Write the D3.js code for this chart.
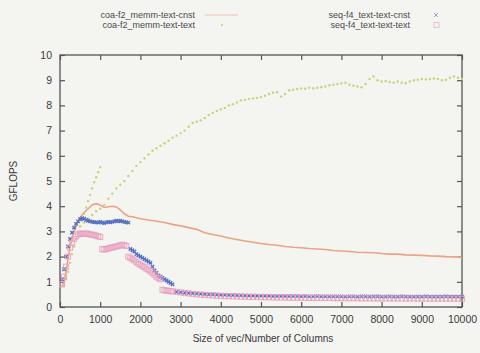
<!DOCTYPE html>
<html>
<head>
<meta charset="utf-8">
<script src="https://cdn.jsdelivr.net/npm/d3@7"></script>
<style>
  html, body { margin: 0; padding: 0; background: #f4f4f1; }
  svg { display: block; }
</style>
</head>
<body>
<div id="chart"></div>
<script>
// legend entries, in plot order
const seriesNames = ['coa-f2_memm-text-cnst', 'coa-f2_memm-text-text', 'seq-f4_text-text-cnst', 'seq-f4_text-text-text'];

const xTicks = [0, 1000, 2000, 3000, 4000, 5000, 6000, 7000, 8000, 9000, 10000];
const yTicks = [0, 1, 2, 3, 4, 5, 6, 7, 8, 9, 10];

// coa-f2_memm-text-cnst (line)
const orangeX = [50, 100, 150, 200, 250, 300, 350, 400, 450, 500, 600, 700, 800, 900, 1000, 1100, 1200, 1300, 1400, 1500, 1600, 1700, 1800,
  2000, 2200, 2400, 2600, 2800, 3000, 3200, 3400, 3600, 3800, 4000, 4200, 4400, 4600, 4800, 5000, 5200, 5400, 5600, 5800,
  6000, 6200, 6400, 6600, 6800, 7000, 7200, 7400, 7600, 7800, 8000, 8200, 8400, 8600, 8800, 9000, 9200, 9400, 9600, 9800, 10000];
const orangeY = [0.8, 1.0, 1.4, 1.9, 2.4, 2.7, 3.0, 3.2, 3.4, 3.55, 3.75, 3.9, 4.05, 4.1, 4.05, 3.95, 3.98, 4.0, 3.97, 3.85, 3.7, 3.6, 3.58,
  3.5, 3.45, 3.4, 3.35, 3.28, 3.22, 3.15, 3.08, 2.95, 2.88, 2.82, 2.74, 2.68, 2.62, 2.57, 2.52, 2.48, 2.45, 2.4, 2.37,
  2.35, 2.32, 2.3, 2.28, 2.24, 2.22, 2.2, 2.17, 2.16, 2.15, 2.12, 2.1, 2.1, 2.07, 2.06, 2.05, 2.03, 2.02, 2.0, 1.99, 1.97];

// coa-f2_memm-text-text (points), steep early branch and main branch
const greenSteepX = d3.range(100, 1001, 50);
const greenSteepY = [0.85, 1.1, 1.4, 1.75, 2.1, 2.4, 2.7, 2.95, 3.2, 3.45, 3.7, 3.95, 4.2, 4.45, 4.7, 4.95, 5.15, 5.35, 5.55];
const greenX = d3.range(500, 10001, 100);
const greenY = [3.2, 3.35, 3.5, 3.65, 3.8, 3.9, 4.05, 4.3, 4.5, 4.7,
  4.85, 5.0, 5.2, 5.4, 5.6, 5.75, 5.9, 6.05, 6.2, 6.3,
  6.4, 6.5, 6.6, 6.72, 6.8, 6.9, 7.0, 7.15, 7.3, 7.35,
  7.4, 7.5, 7.62, 7.7, 7.78, 7.85, 7.9, 8.0, 8.05, 8.12,
  8.2, 8.22, 8.25, 8.28, 8.3, 8.33, 8.38, 8.45, 8.5, 8.52,
  8.35, 8.45, 8.6, 8.62, 8.65, 8.67, 8.66, 8.7, 8.68, 8.7,
  8.72, 8.75, 8.8, 8.82, 8.85, 8.88, 8.9, 8.82, 8.78, 8.75,
  8.72, 8.85, 9.05, 9.15, 9.0, 8.95, 8.97, 8.93, 8.9, 8.95,
  8.9, 8.88, 8.95, 9.0, 9.02, 9.05, 9.03, 9.05, 9.07, 9.05,
  9.0, 9.02, 9.1, 9.15, 9.1, 9.05];

// seq-f4 series: fine grid up to 2800, coarser afterwards
const fineX = d3.range(50, 2801, 50);
const bandX = d3.range(2900, 10001, 100);

const blueFineY = [1.1, 1.5, 2.0, 2.4, 2.7, 2.95, 3.15, 3.3, 3.4, 3.48,
  3.52, 3.5, 3.45, 3.42, 3.4, 3.38, 3.37, 3.36, 3.35, 3.38,
  3.35, 3.33, 3.36, 3.38, 3.36, 3.38, 3.4, 3.42, 3.4, 3.42,
  3.4, 3.38, 3.36, 3.35, 2.3, 2.25, 2.2, 2.1, 2.05, 2.0,
  1.95, 1.9, 1.85, 1.8, 1.75, 1.6, 1.45, 1.35, 1.25, 1.2,
  1.15, 1.1, 1.05, 1.0, 0.95, 0.9];
const blueBandY = [0.6, 0.58, 0.56, 0.55, 0.54, 0.53, 0.52, 0.51, 0.5, 0.5,
  0.49, 0.48, 0.48, 0.47, 0.47, 0.46, 0.46, 0.45, 0.45, 0.45,
  0.44, 0.44, 0.44, 0.44, 0.43, 0.43, 0.43, 0.43, 0.43, 0.43,
  0.43, 0.42, 0.43, 0.42, 0.42, 0.43, 0.42, 0.42, 0.42, 0.42,
  0.42, 0.42, 0.41, 0.42, 0.42, 0.41, 0.42, 0.42, 0.41, 0.42,
  0.42, 0.41, 0.41, 0.42, 0.41, 0.41, 0.42, 0.41, 0.41, 0.41,
  0.41, 0.41, 0.42, 0.41, 0.41, 0.41, 0.41, 0.42, 0.41, 0.41,
  0.41, 0.41];

const pinkFineY = [0.9, 1.2, 1.6, 2.0, 2.35, 2.55, 2.7, 2.8, 2.88, 2.92,
  2.9, 2.9, 2.92, 2.9, 2.88, 2.87, 2.85, 2.83, 2.8, 2.78,
  2.3, 2.28, 2.3, 2.32, 2.35, 2.36, 2.38, 2.4, 2.42, 2.45,
  2.47, 2.45, 2.42, 2.0, 1.95, 1.9, 1.85, 1.78, 1.72, 1.68,
  1.62, 1.58, 1.52, 1.48, 1.42, 1.35, 1.28, 1.2, 1.15, 1.1,
  0.68, 0.66, 0.65, 0.64, 0.63, 0.62];
const pinkBandY = [0.6, 0.58, 0.56, 0.54, 0.52, 0.5, 0.49, 0.48, 0.47, 0.46,
  0.45, 0.44, 0.43, 0.43, 0.42, 0.42, 0.41, 0.41, 0.4, 0.4,
  0.4, 0.39, 0.39, 0.39, 0.38, 0.38, 0.38, 0.38, 0.37, 0.37,
  0.37, 0.37, 0.37, 0.36, 0.36, 0.36, 0.36, 0.36, 0.36, 0.35,
  0.35, 0.35, 0.35, 0.35, 0.35, 0.35, 0.34, 0.35, 0.34, 0.34,
  0.34, 0.34, 0.34, 0.34, 0.34, 0.34, 0.34, 0.33, 0.34, 0.34,
  0.33, 0.34, 0.33, 0.33, 0.33, 0.33, 0.33, 0.33, 0.33, 0.33,
  0.33, 0.33];

const colors = ['#eba384', '#c9d27a', '#5670bf', '#e79dbd'];

const width = 480, height = 353;
const margin = { top: 55, right: 18, bottom: 46, left: 60 };

const svg = d3.select('#chart').append('svg')
  .attr('width', width)
  .attr('height', height)
  .style('font-family', 'Liberation Sans, Arial, sans-serif');

// slight softening, the reference is a photo
svg.append('defs').append('filter')
  .attr('id', 'soft')
  .append('feGaussianBlur').attr('stdDeviation', 0.45);

const x = d3.scaleLinear().domain([0, 10000]).range([margin.left, width - margin.right]);
const y = d3.scaleLinear().domain([0, 10]).range([height - margin.bottom, margin.top]);

const zip = (xs, ys) => xs.map((v, i) => [v, ys[i]]);

// frame + ticks (gnuplot style, inward, mirrored)
const axisColor = '#555';
const tickLen = 5;
const g = svg.append('g');

g.append('g')
  .attr('transform', `translate(0,${y(0)})`)
  .call(d3.axisBottom(x).tickValues(xTicks).tickSize(-tickLen).tickPadding(9).tickFormat(d3.format('d')))
  .call(a => a.select('.domain').remove());
g.append('g')
  .attr('transform', `translate(0,${y(10)})`)
  .call(d3.axisTop(x).tickValues(xTicks).tickSize(-tickLen).tickFormat(''))
  .call(a => a.select('.domain').remove());
g.append('g')
  .attr('transform', `translate(${x(0)},0)`)
  .call(d3.axisLeft(y).tickValues(yTicks).tickSize(-tickLen).tickPadding(8))
  .call(a => a.select('.domain').remove());
g.append('g')
  .attr('transform', `translate(${x(10000)},0)`)
  .call(d3.axisRight(y).tickValues(yTicks).tickSize(-tickLen).tickFormat(''))
  .call(a => a.select('.domain').remove());

g.selectAll('.tick line').attr('stroke', axisColor).attr('stroke-width', 1.2);
g.selectAll('.tick text').attr('fill', '#3a3a3a').style('font-size', '10.5px');

g.append('rect')
  .attr('x', x(0)).attr('y', y(10))
  .attr('width', x(10000) - x(0)).attr('height', y(0) - y(10))
  .attr('fill', 'none').attr('stroke', axisColor).attr('stroke-width', 1.3);

// axis titles
svg.append('text')
  .attr('transform', `translate(17,${(y(0) + y(10)) / 2}) rotate(-90)`)
  .attr('text-anchor', 'middle')
  .attr('fill', '#3a3a3a')
  .style('font-size', '10px')
  .text('GFLOPS');
svg.append('text')
  .attr('x', (x(0) + x(10000)) / 2 + 2)
  .attr('y', 342)
  .attr('text-anchor', 'middle')
  .attr('fill', '#3a3a3a')
  .style('font-size', '10px')
  .text('Size of vec/Number of Columns');

const plot = svg.append('g').attr('filter', 'url(#soft)');

// orange line
plot.append('path')
  .datum(zip(orangeX, orangeY))
  .attr('fill', 'none')
  .attr('stroke', colors[0])
  .attr('stroke-width', 1.6)
  .attr('d', d3.line().x(d => x(d[0])).y(d => y(d[1])));

// green points
const greenPts = zip(greenSteepX, greenSteepY).concat(zip(greenX, greenY));
plot.append('g').selectAll('circle')
  .data(greenPts)
  .join('circle')
  .attr('cx', d => x(d[0]))
  .attr('cy', d => y(d[1]))
  .attr('r', 1.2)
  .attr('fill', colors[1]);

// blue points (small crosses)
const bluePts = zip(fineX, blueFineY).concat(zip(bandX, blueBandY));
plot.append('g').selectAll('path')
  .data(bluePts)
  .join('path')
  .attr('d', d => `M${x(d[0]) - 1.7},${y(d[1]) - 1.7}L${x(d[0]) + 1.7},${y(d[1]) + 1.7}M${x(d[0]) - 1.7},${y(d[1]) + 1.7}L${x(d[0]) + 1.7},${y(d[1]) - 1.7}`)
  .attr('stroke', colors[2])
  .attr('stroke-width', 1.4);

// pink points (open squares)
const pinkPts = zip(fineX, pinkFineY).concat(zip(bandX, pinkBandY));
plot.append('g').selectAll('rect')
  .data(pinkPts)
  .join('rect')
  .attr('x', d => x(d[0]) - 2.5)
  .attr('y', d => y(d[1]) - 2.5)
  .attr('width', 5).attr('height', 5)
  .attr('fill', 'none')
  .attr('stroke', colors[3])
  .attr('stroke-width', 1.1)
  .attr('opacity', 0.8);

// legend
const legend = svg.append('g').style('font-size', '9px').attr('fill', '#4a4a4a');
const legendPos = [[195, 15], [195, 25], [410, 15], [410, 25]];
seriesNames.forEach((name, i) => {
  const [lx, ly] = legendPos[i];
  legend.append('text')
    .attr('x', lx).attr('y', ly + 3)
    .attr('text-anchor', 'end')
    .text(name);
});
legend.append('line')
  .attr('x1', 205).attr('x2', 238).attr('y1', 15).attr('y2', 15)
  .attr('stroke', colors[0]).attr('stroke-width', 1).attr('opacity', 0.6);
legend.append('circle')
  .attr('cx', 222).attr('cy', 25).attr('r', 1.1).attr('fill', colors[1]);
legend.append('path')
  .attr('d', 'M434,13L438,17M434,17L438,13')
  .attr('stroke', colors[2]).attr('stroke-width', 1).attr('opacity', 0.6);
legend.append('rect')
  .attr('x', 434).attr('y', 22.5).attr('width', 5).attr('height', 5)
  .attr('fill', 'none').attr('stroke', colors[3]).attr('opacity', 0.6);
</script>
</body>
</html>
